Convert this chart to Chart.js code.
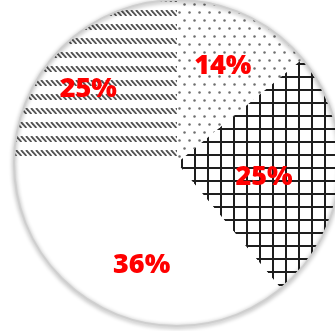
<!DOCTYPE html>
<html>
<head>
<meta charset="utf-8">
<script src="https://cdn.jsdelivr.net/npm/chart.js@4/dist/chart.umd.min.js"></script>
<style>
  html, body { margin: 0; padding: 0; background: #fff; overflow: hidden; }
  body { width: 335px; height: 331px; position: relative; }
  #wrap { position: absolute; left: 7px; top: -7px; width: 340px; height: 340px; }
</style>
</head>
<body>
<div id="wrap"><canvas id="pie" width="340" height="340"></canvas></div>
<script>
// slices, clockwise from the top
const categories = ['A', 'B', 'C', 'D'];
const values = [14, 25, 36, 25];

// label placement: fraction of radius, angle shift in degrees
const labelRadius = [0.66, 0.54, 0.66, 0.71];
const labelShift = [0, 3, -6, -5];

function makeTile(w, h, draw) {
    const c = document.createElement('canvas');
    c.width = w;
    c.height = h;
    const g = c.getContext('2d');
    draw(g);
    return document.getElementById('pie').getContext('2d').createPattern(c, 'repeat');
}

// dotted
const dots = makeTile(10, 16, g => {
    g.fillStyle = '#fff';
    g.fillRect(0, 0, 10, 16);
    g.fillStyle = '#6e6e6e';
    [[2.5, 3.5], [7.5, 11.5]].forEach(p => {
        g.beginPath();
        g.arc(p[0], p[1], 1.25, 0, Math.PI * 2);
        g.fill();
    });
});

// square grid
const grid = makeTile(13, 13, g => {
    g.fillStyle = '#fff';
    g.fillRect(0, 0, 13, 13);
    g.fillStyle = '#1e1e1e';
    g.fillRect(5, 0, 2, 13);
    g.fillRect(0, 5, 13, 2);
});

// rows of short backslash strokes
const hatch = makeTile(5, 14, g => {
    g.fillStyle = '#fff';
    g.fillRect(0, 0, 5, 14);
    g.save();
    g.beginPath();
    g.rect(0, 3, 5, 6);
    g.clip();
    g.strokeStyle = '#555';
    g.lineWidth = 1.9;
    [-5, 0, 5].forEach(o => {
        g.beginPath();
        g.moveTo(o - 1, 3);
        g.lineTo(o + 4.5, 9);
        g.stroke();
    });
    g.restore();
});

const fills = [dots, grid, '#ffffff', hatch];

const edgePlugin = {
    id: 'edge',
    afterDatasetsDraw(chart) {
        const arc = chart.getDatasetMeta(0).data[0];
        const ctx = chart.ctx;
        ctx.save();
        ctx.beginPath();
        ctx.arc(arc.x, arc.y, arc.outerRadius, 0, Math.PI * 2);
        ctx.strokeStyle = '#cfcfcf';
        ctx.lineWidth = 2;
        ctx.shadowColor = 'rgba(0,0,0,0.45)';
        ctx.shadowBlur = 4;
        ctx.shadowOffsetY = 1;
        ctx.stroke();
        ctx.restore();
    }
};

const labelPlugin = {
    id: 'pctLabels',
    afterDraw(chart) {
        const ctx = chart.ctx;
        ctx.save();
        ctx.fillStyle = '#ff0000';
        ctx.font = '800 27px "Open Sans", "Liberation Sans", sans-serif';
        ctx.textAlign = 'center';
        ctx.textBaseline = 'middle';
        chart.getDatasetMeta(0).data.forEach((a, i) => {
            const mid = (a.startAngle + a.endAngle) / 2 + labelShift[i] * Math.PI / 180;
            const r = a.outerRadius * labelRadius[i];
            ctx.fillText(values[i] + '%', a.x + r * Math.cos(mid), a.y + r * Math.sin(mid) + 1);
        });
        ctx.restore();
    }
};

new Chart(document.getElementById('pie'), {
    type: 'pie',
    data: {
        labels: categories,
        datasets: [{
            data: values,
            backgroundColor: fills,
            borderWidth: 0
        }]
    },
    options: {
        responsive: false,
        animation: false,
        layout: { padding: 7 },
        events: [],
        plugins: {
            legend: { display: false },
            tooltip: { enabled: false }
        }
    },
    plugins: [edgePlugin, labelPlugin]
});
</script>
</body>
</html>
